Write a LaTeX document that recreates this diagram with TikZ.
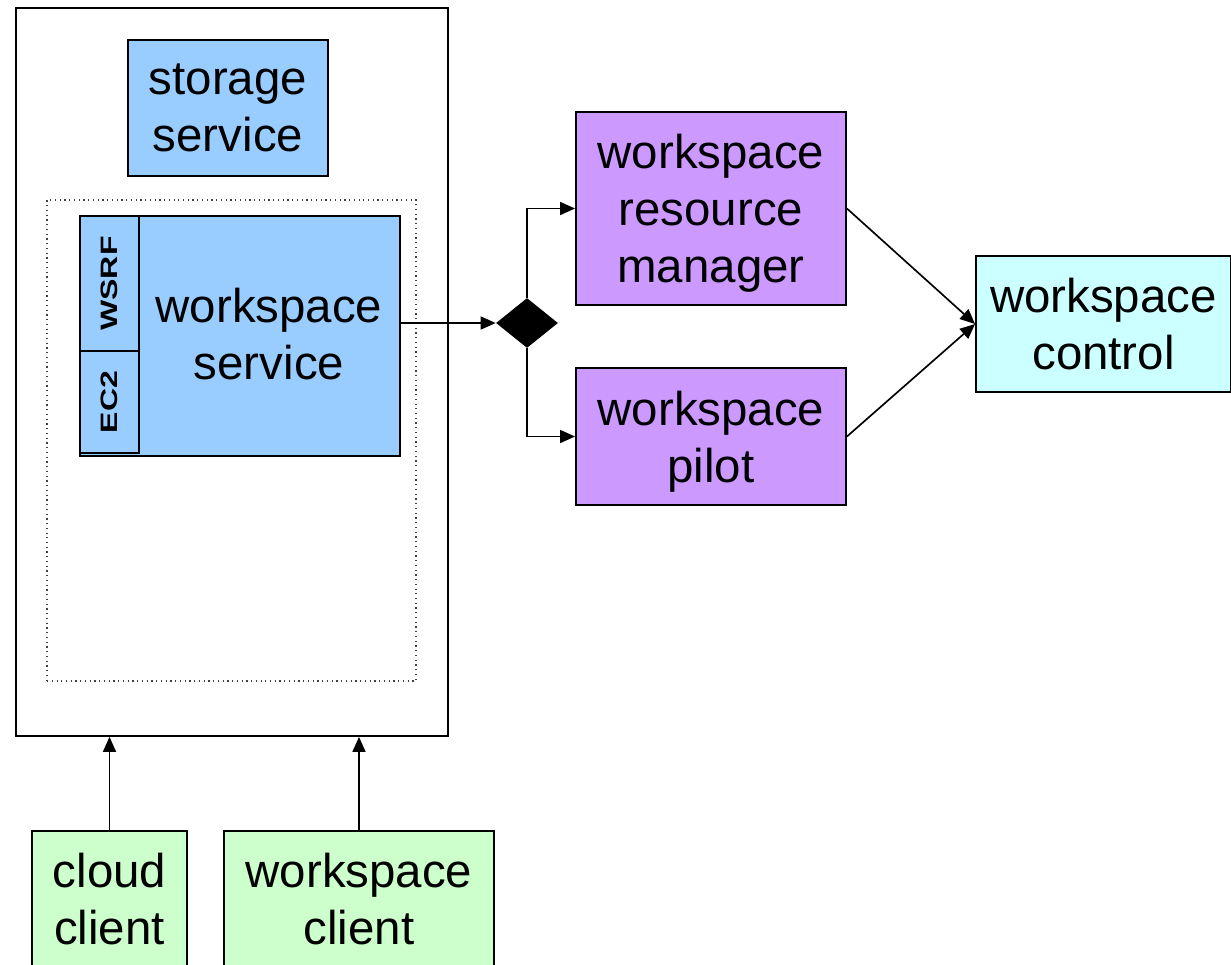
\documentclass[tikz,border=0pt]{standalone}
\usepackage{fontspec}
\setmainfont{Liberation Sans}
\usetikzlibrary{arrows.meta,shapes.geometric}

\definecolor{svcblue}{HTML}{99CCFF}
\definecolor{mgrpurple}{HTML}{CC99FF}
\definecolor{ctrlcyan}{HTML}{CCFFFF}
\definecolor{clientgreen}{HTML}{CCFFCC}

\tikzset{
    box/.style={draw, line width=1.1pt, inner sep=0pt, align=center,
        font=\fontsize{27}{32.5}\selectfont, text depth=-3pt},
    tab/.style={draw, line width=1.1pt, fill=svcblue, inner sep=0pt, rotate=90,
        font=\fontsize{13.5}{15}\selectfont\bfseries},
    link/.style={line width=0.95pt, -{Triangle[length=0.3cm,width=0.26cm]}}
}

\begin{document}
\begin{tikzpicture}[x=0.02cm, y=-0.02cm]
    \useasboundingbox (0,0) rectangle (1231,964);

    % service container
    \node[box, minimum width=8.64cm, minimum height=14.56cm] (outer) at (232,372) {};
    \node[draw=black!75, dotted, line width=0.7pt, minimum width=7.38cm, minimum height=9.62cm] (inner) at (231.5,440.5) {};
    \node[box, fill=svcblue, minimum width=4cm, minimum height=2.72cm] (storage) at (228,108) {storage\\service};

    % workspace service with its two front ends
    \node[box, fill=svcblue, minimum width=6.4cm, minimum height=4.8cm] (wss) at (240,336) {};
    \node[box, draw=none] (wsstext) at (269,334) {workspace\\service};
    \node[tab, minimum width=2.7cm, minimum height=1.18cm] (wsrf) at (109.5,283.5) {\scalebox{1.35}[1]{WSRF}};
    \node[tab, minimum width=2.04cm, minimum height=1.18cm] (ec2) at (109.5,402) {\scalebox{1.35}[1]{EC2}};

    % back ends
    \node[diamond, fill=black, inner sep=0pt, minimum width=1.24cm, minimum height=1cm] (split) at (527,323) {};
    \node[box, fill=mgrpurple, minimum width=5.4cm, minimum height=3.86cm] (wrm) at (711,208.5) {workspace\\resource\\manager};
    \node[box, fill=mgrpurple, minimum width=5.4cm, minimum height=2.74cm] (pilot) at (711,436.5) {workspace\\pilot};
    \node[box, fill=ctrlcyan, minimum width=5.1cm, minimum height=2.72cm] (ctrl) at (1103.5,324) {workspace\\control};

    % clients
    \node[box, fill=clientgreen, minimum width=3.1cm, minimum height=2.72cm] (cloud) at (109.5,899) {cloud\\client};
    \node[box, fill=clientgreen, minimum width=5.4cm, minimum height=2.72cm] (wclient) at (359,899) {workspace\\client};

    % connectors
    \draw[link] (wss.east |- split.west) -- (split.west);
    \draw[link] (split.north) |- (wrm.west);
    \draw[link] (split.south) |- (pilot.west);
    \draw[link] (wrm.east) -- (ctrl.west);
    \draw[link] (pilot.east) -- (ctrl.west);
    \draw[link] (cloud.north) -- (cloud.north |- outer.south);
    \draw[link] (wclient.north) -- (wclient.north |- outer.south);
\end{tikzpicture}
\end{document}
